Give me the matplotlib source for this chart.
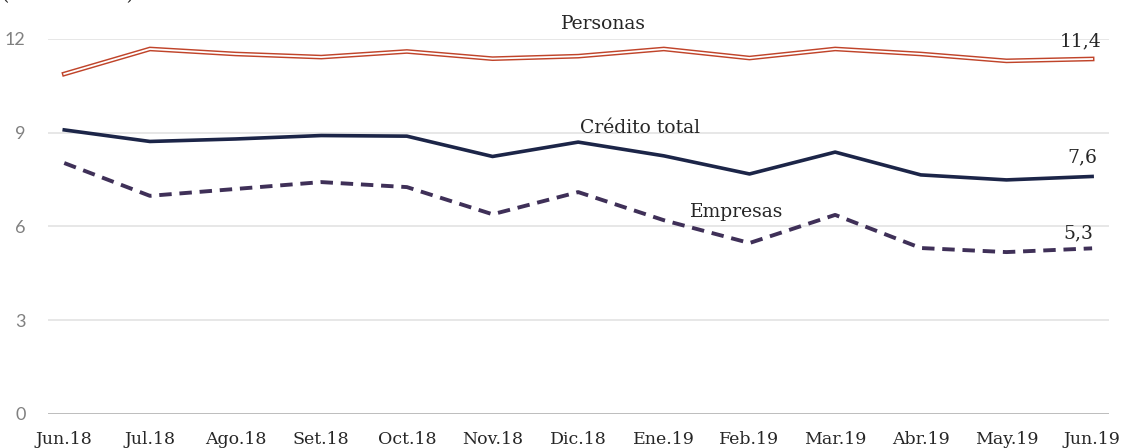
import matplotlib
matplotlib.use('Agg')
import matplotlib.pyplot as plt

months = ['Jun.18', 'Jul.18', 'Ago.18', 'Set.18', 'Oct.18', 'Nov.18', 'Dic.18',
          'Ene.19', 'Feb.19', 'Mar.19', 'Abr.19', 'May.19', 'Jun.19']
personas = [10.88, 11.68, 11.52, 11.42, 11.60, 11.37, 11.45, 11.68, 11.39, 11.68, 11.52, 11.30, 11.36]
credito_total = [9.09, 8.72, 8.80, 8.91, 8.89, 8.24, 8.70, 8.26, 7.68, 8.38, 7.65, 7.49, 7.60]
empresas = [8.03, 6.98, 7.20, 7.42, 7.26, 6.39, 7.10, 6.20, 5.47, 6.37, 5.31, 5.18, 5.30]
yticks = [0, 3, 6, 9, 12]

plt.rcParams['font.family'] = ['DejaVu Serif']

fig = plt.figure(figsize=(11.29, 4.48), dpi=100)
ax = fig.add_axes([0.0425, 0.076, 0.94, 0.837])

x = list(range(len(months)))
red = '#C0442A'
navy = '#1C2548'
purple = '#3F3058'
txt = '#262626'

# double line look for Personas
ax.plot(x, personas, color=red, lw=3.4, solid_joinstyle='miter', zorder=3, clip_on=False)
ax.plot(x, personas, color='white', lw=1.3, solid_joinstyle='miter', zorder=4, clip_on=False)
ax.plot(x, credito_total, color=navy, lw=2.6, zorder=3, clip_on=False)
ax.plot(x, empresas, color=purple, lw=2.8, ls=(0, (3.2, 2.0)), zorder=3, clip_on=False)

ax.set_xlim(-0.19, 12.2)
ax.set_ylim(0, 12)
ax.set_yticks(yticks)
ax.set_xticks(x)
ax.set_xticklabels(months, fontsize=12.5, color=txt)
ax.set_yticklabels([str(v) for v in yticks], fontsize=13, color='#808080', family='Lato')
ax.tick_params(length=0)
ax.tick_params(axis='x', pad=12)
ax.tick_params(axis='y', pad=16)

for v in yticks[1:]:
    ax.axhline(v, color='#e3e3e3', lw=1.2, zorder=1)
ax.axhline(0, color='#bdbdbd', lw=1.4, zorder=1)
for s in ax.spines.values():
    s.set_visible(False)

ax.text(6.29, 12.48, 'Personas', fontsize=13.5, ha='center', va='center', color=txt)
ax.text(6.72, 9.15, 'Crédito total', fontsize=13.5, ha='center', va='center', color=txt)
ax.text(7.85, 6.46, 'Empresas', fontsize=13.5, ha='center', va='center', color=txt)

ax.annotate('11,4', (12, personas[-1]), textcoords='offset points', xytext=(-8, 13),
            ha='center', va='center', fontsize=13.5, color=txt)
ax.annotate('7,6', (12, credito_total[-1]), textcoords='offset points', xytext=(-7, 14),
            ha='center', va='center', fontsize=13.5, color=txt)
ax.annotate('5,3', (12, empresas[-1]), textcoords='offset points', xytext=(-10, 11),
            ha='center', va='center', fontsize=13.5, color=txt)

# unit note, cut off at the top edge as in the source image
fig.text(0.002, 1.012, '(Var. % anual)', fontsize=13.5, ha='left', va='center', color=txt)

fig.savefig('out.png', dpi=100)
